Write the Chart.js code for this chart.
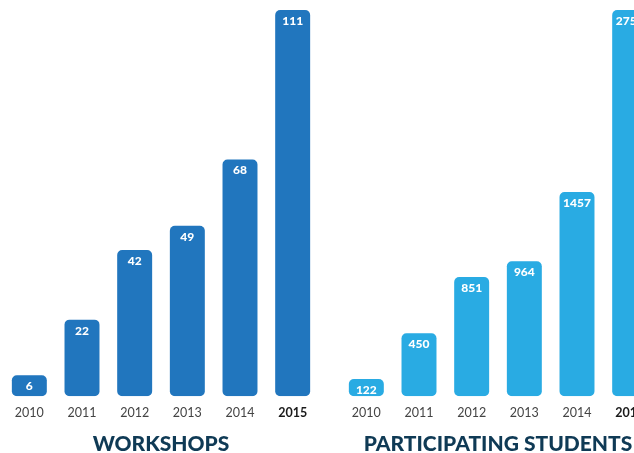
<!DOCTYPE html>
<html>
<head>
<meta charset="utf-8">
<script src="https://cdn.jsdelivr.net/npm/chart.js@4"></script>
<style>
  html, body { margin: 0; padding: 0; background: #fff; overflow: hidden; }
  body { width: 634px; height: 453px; position: relative; }
  .box { position: absolute; top: 0; width: 322px; height: 453px; }
</style>
</head>
<body>
<div class="box" style="left:0"><canvas id="workshops"></canvas></div>
<div class="box" style="left:337px"><canvas id="students"></canvas></div>
<script>
const years = ["2010", "2011", "2012", "2013", "2014", "2015"];
const workshops = [6, 22, 42, 49, 68, 111];
const students = [122, 450, 851, 964, 1457, 2757];

// white numbers near the top of each bar
Chart.register({
  id: 'barValues',
  afterDatasetsDraw: chart => {
    const { ctx } = chart;
    const meta = chart.getDatasetMeta(0);
    const values = chart.data.datasets[0].data;
    ctx.save();
    ctx.fillStyle = '#ffffff';
    ctx.font = '900 12px Lato, "Open Sans", sans-serif';
    ctx.textAlign = 'center';
    ctx.textBaseline = 'middle';
    meta.data.forEach((bar, i) => {
      ctx.fillText(values[i], bar.x, bar.y + 11);
    });
    ctx.restore();
  }
});

function makeChart(id, values, color, title, maxVal) {
  return new Chart(id, {
    type: 'bar',
    data: {
      labels: years,
      datasets: [{
        data: values,
        backgroundColor: color,
        borderRadius: 5,
        borderSkipped: false,
        barPercentage: 0.664,
        categoryPercentage: 1
      }]
    },
    options: {
      responsive: true,
      maintainAspectRatio: false,
      animation: false,
      layout: { padding: { left: 3, right: 3, top: 10, bottom: 0 } },
      plugins: {
        legend: { display: false },
        tooltip: { enabled: false },
        title: {
          display: true,
          text: title,
          position: 'bottom',
          color: '#0f3a55',
          font: { family: 'Lato, "Open Sans", sans-serif', size: 21, weight: '900', lineHeight: 0.8 },
          padding: { top: 15, bottom: 0 }
        }
      },
      scales: {
        y: { display: false, min: 0, max: maxVal },
        x: {
          grid: { display: false, drawTicks: false },
          border: { display: false },
          ticks: {
            padding: 9,
            color: ctx => ctx.index === 5 ? '#1a1a1a' : '#444444',
            font: ctx => ({
              family: 'Lato, "Open Sans", sans-serif',
              size: 12.5,
              weight: ctx.index === 5 ? 'bold' : 'normal'
            })
          },
          afterFit: scale => { scale.height = 25; }
        }
      }
    }
  });
}

makeChart('workshops', workshops, '#2176be', 'WORKSHOPS', 111);
makeChart('students', students, '#29abe3', 'PARTICIPATING STUDENTS', 2757);
</script>
</body>
</html>
